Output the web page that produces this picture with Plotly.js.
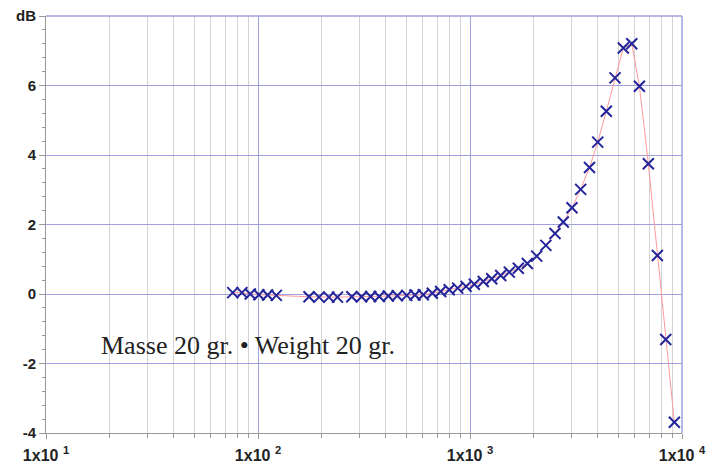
<!DOCTYPE html>
<html>
<head>
<meta charset="utf-8">
<script src="https://cdn.plot.ly/plotly-3.0.1.min.js"></script>
<style>html,body{margin:0;padding:0;background:#fff;}#chart{width:714px;height:466px;}</style>
</head>
<body>
<div id="chart"></div>
<script>
// Frequency (Hz) of each measured point
const freqHz = [76, 84, 92, 101, 111, 122,
  174, 194, 216, 237,
  277, 308, 340, 373, 412, 454, 503, 550,
  602, 664, 727, 798, 875, 958, 1048, 1155, 1266, 1396, 1533, 1690, 1864, 2064,
  2280, 2518, 2754, 3027, 3327, 3662, 4003, 4396, 4830, 5287, 5795, 6295, 6938, 7652, 8381, 9204];
// Level (dB)
const levelDb = [0.04, 0.04, 0.0, -0.02, -0.03, -0.04,
  -0.08, -0.09, -0.09, -0.09,
  -0.08, -0.08, -0.07, -0.07, -0.06, -0.05, -0.04, -0.03,
  -0.02, 0.02, 0.07, 0.12, 0.17, 0.22, 0.28, 0.36, 0.44, 0.53, 0.63, 0.74, 0.88, 1.09,
  1.40, 1.74, 2.07, 2.48, 3.01, 3.64, 4.37, 5.26, 6.22, 7.08, 7.20, 5.98, 3.75, 1.11, -1.31, -3.69];

const xTickVals = [10, 100, 1000, 10000];
const xTickText = ['1x10\u00a0<sup>1</sup>', '1x10\u00a0<sup>2</sup>', '1x10\u00a0<sup>3</sup>', '1x10\u00a0<sup>4</sup>'];
const yTickVals = [-4, -2, 0, 2, 4, 6, 8];
const yTickText = ['-4', '-2', '0', '2', '4', '6', 'dB'];
const noteText = 'Masse 20 gr. \u2022 Weight 20 gr.';

const minorX = [];
for (let d = 10; d < 10000; d *= 10) for (let k = 2; k <= 9; k++) minorX.push(k * d);

const blue = '#a0a0dc';
const trace = {
  x: freqHz, y: levelDb, type: 'scatter', mode: 'lines+markers',
  line: {color: '#ff9a9a', width: 1},
  marker: {symbol: 'x-thin', size: 11, color: '#25259a', line: {color: '#25259a', width: 2}},
  hoverinfo: 'skip'
};

const layout = {
  width: 714, height: 466,
  margin: {l: 46, r: 32, t: 16, b: 33},
  paper_bgcolor: '#fff', plot_bgcolor: '#fff',
  showlegend: false,
  font: {family: 'Liberation Sans, Arial, sans-serif', color: '#222'},
  xaxis: {
    type: 'log', range: [1, 4], tickmode: 'array', tickvals: xTickVals, ticktext: xTickText,
    tickfont: {size: 16, weight: 'bold', color: '#222'},
    showgrid: true, gridcolor: blue, gridwidth: 1,
    showline: true, linecolor: '#999', linewidth: 1,
    ticks: 'outside', ticklen: 5, tickcolor: '#999',
    ticklabelstandoff: 3,
    zeroline: false,
    minor: {tickmode: 'array', tickvals: minorX, showgrid: true, gridcolor: '#d4d4d4', gridwidth: 1, ticks: 'outside', ticklen: 4, tickcolor: '#999'}
  },
  yaxis: {
    range: [-4, 8], tickmode: 'array', tickvals: yTickVals, ticktext: yTickText,
    tickfont: {size: 15, weight: 'bold', color: '#222'},
    showgrid: true, gridcolor: blue, gridwidth: 1,
    showline: true, linecolor: '#999', linewidth: 1,
    ticks: 'outside', ticklen: 6, tickcolor: '#999',
    zeroline: false,
    minor: {dtick: 0.4, tick0: 0, ticks: 'outside', ticklen: 3, tickcolor: '#999', showgrid: false}
  },
  shapes: [
    {type: 'line', xref: 'paper', yref: 'paper', x0: 1, x1: 1, y0: 0, y1: 1, line: {color: blue, width: 1.5}},
    {type: 'line', xref: 'paper', yref: 'paper', x0: 0, x1: 1, y0: 1, y1: 1, line: {color: blue, width: 1.5}}
  ],
  annotations: [{
    text: noteText, xref: 'paper', yref: 'paper', x: 0.084, y: 0.209,
    xanchor: 'left', yanchor: 'middle', showarrow: false,
    font: {family: 'Liberation Serif, Times New Roman, serif', size: 26, color: '#222'}
  }]
};

Plotly.newPlot('chart', [trace], layout, {displayModeBar: false, staticPlot: true});
</script>
</body>
</html>
